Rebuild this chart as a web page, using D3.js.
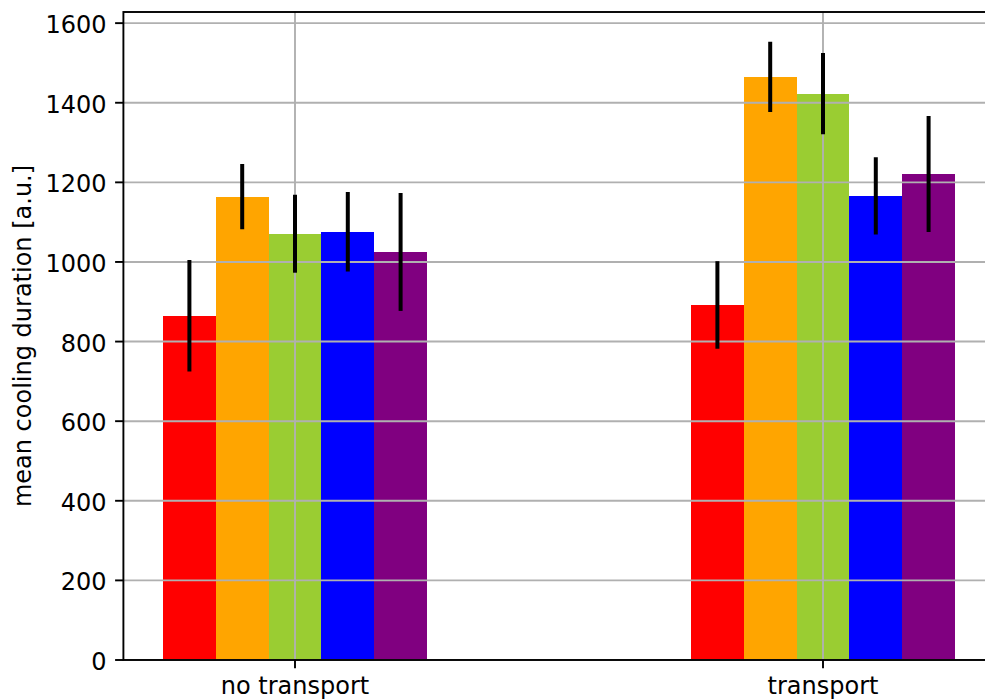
<!DOCTYPE html>
<html>
<head>
<meta charset="utf-8">
<script src="https://cdn.jsdelivr.net/npm/d3@7"></script>
<style>
  html, body { margin: 0; padding: 0; background: #fff; }
  svg { display: block; }
  text { font-family: "DejaVu Sans", sans-serif; fill: #000; }
</style>
</head>
<body>
<svg id="chart" width="985" height="700"></svg>
<script>
// ---- data ----
const categories = ["no transport", "transport"];
const seriesNames = ["red", "orange", "yellowgreen", "blue", "purple"];
const seriesColors = ["#ff0000", "#ffa500", "#9acd32", "#0000ff", "#800080"];
const meanValues = [
  [865, 892],    // red
  [1164, 1465],  // orange
  [1071, 1423],  // yellowgreen
  [1076, 1166],  // blue
  [1025, 1221]   // purple
];
const errorValues = [
  [140, 110],
  [82, 88],
  [98, 102],
  [100, 97],
  [148, 146]
];
const yTicks = [0, 200, 400, 600, 800, 1000, 1200, 1400, 1600];
const yLabel = "mean cooling duration [a.u.]";

(function () {
// ---- layout ----
const svg = d3.select("#chart");
const pL = 123.4, pR = 994.6, pT = 12, pB = 660;
const fs = 24;
const barW = 0.1;

const x = d3.scaleLinear().domain([-0.325, 1.325]).range([pL, pR]);
const y = d3.scaleLinear().domain([0, 1628]).range([pB, pT]);

const defs = svg.append("defs");
defs.append("clipPath").attr("id", "clip")
  .append("rect").attr("x", pL).attr("y", pT)
  .attr("width", pR - pL).attr("height", pB - pT);

const plot = svg.append("g").attr("clip-path", "url(#clip)");

// bars
const barData = [];
seriesNames.forEach((s, si) => {
  categories.forEach((c, ci) => {
    barData.push({ si, ci, v: meanValues[si][ci], e: errorValues[si][ci],
      xc: ci + (si - 2) * barW });
  });
});

plot.selectAll("rect.bar").data(barData).enter().append("rect")
  .attr("class", "bar")
  .attr("x", d => x(d.xc - barW / 2))
  .attr("width", d => x(d.xc + barW / 2) - x(d.xc - barW / 2))
  .attr("y", d => y(d.v))
  .attr("height", d => y(0) - y(d.v))
  .attr("fill", d => seriesColors[d.si])
  .attr("shape-rendering", "crispEdges");

// grid
const grid = plot.append("g");
grid.selectAll("line.h").data(yTicks).enter().append("line")
  .attr("class", "h")
  .attr("x1", pL).attr("x2", pR)
  .attr("y1", d => y(d)).attr("y2", d => y(d))
  .attr("stroke", "#b0b0b0").attr("stroke-width", 1.9);
grid.selectAll("line.v").data(categories).enter().append("line")
  .attr("class", "v")
  .attr("x1", (d, i) => x(i)).attr("x2", (d, i) => x(i))
  .attr("y1", pT).attr("y2", pB)
  .attr("stroke", "#b0b0b0").attr("stroke-width", 1.9);

// error bars
plot.selectAll("line.err").data(barData).enter().append("line")
  .attr("class", "err")
  .attr("x1", d => x(d.xc)).attr("x2", d => x(d.xc))
  .attr("y1", d => y(d.v - d.e)).attr("y2", d => y(d.v + d.e))
  .attr("stroke", "#000").attr("stroke-width", 4);

// spines
svg.append("rect").attr("x", pL).attr("y", pT)
  .attr("width", pR - pL).attr("height", pB - pT)
  .attr("stroke", "#000").attr("stroke-width", 1.9).attr("fill", "none");

// y axis ticks
const yAxis = svg.append("g");
yAxis.selectAll("line").data(yTicks).enter().append("line")
  .attr("x1", pL - 8.3).attr("x2", pL)
  .attr("y1", d => y(d)).attr("y2", d => y(d))
  .attr("stroke", "#000").attr("stroke-width", 1.9);
yAxis.selectAll("text").data(yTicks).enter().append("text")
  .attr("x", pL - 16.8).attr("y", d => y(d)).attr("dy", "0.42em")
  .attr("text-anchor", "end").style("font-size", fs + "px")
  .text(d => d);

// x axis ticks
const xAxis = svg.append("g");
xAxis.selectAll("line").data(categories).enter().append("line")
  .attr("x1", (d, i) => x(i)).attr("x2", (d, i) => x(i))
  .attr("y1", pB).attr("y2", pB + 8.3)
  .attr("stroke", "#000").attr("stroke-width", 1.9);
xAxis.selectAll("text").data(categories).enter().append("text")
  .attr("x", (d, i) => x(i)).attr("y", 694)
  .attr("text-anchor", "middle").style("font-size", fs + "px")
  .text(d => d);

// y label
svg.append("text")
  .attr("transform", `translate(31,${(pT + pB) / 2}) rotate(-90)`)
  .attr("text-anchor", "middle").style("font-size", fs + "px")
  .text(yLabel);
})();
</script>
</body>
</html>
